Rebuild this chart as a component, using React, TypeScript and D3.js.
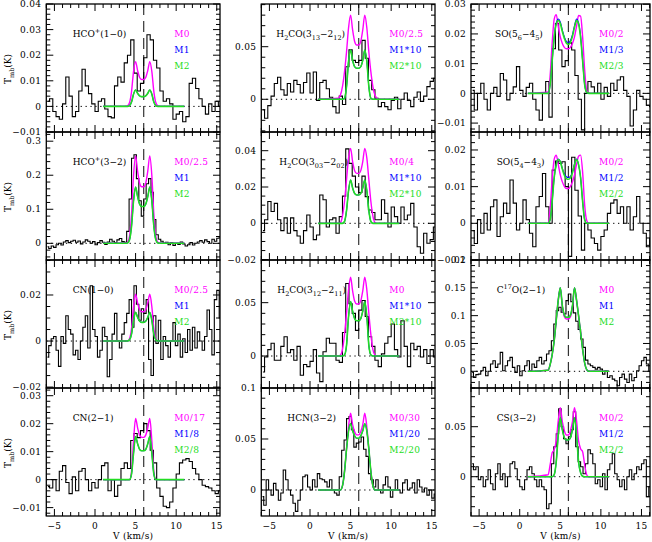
import React from "react";
import * as d3 from "d3";

// ---------- model velocity grid (km/s) ----------
const MODEL_V = [1, 3.5, 3.75, 4, 4.25, 4.5, 4.75, 5, 5.25, 5.5, 5.75, 6, 6.25, 6.5, 6.75, 7, 7.25, 7.5, 7.75, 8, 8.25, 8.5, 11];

// ---------- observed spectra (Tmb, K) ----------
const HCO10_T = [0.002, 0.003, -0.002, -0.004, -0.005, 0.001, 0.0115, 0.004, -0.004, -0.002, 0.006, 0.0145, 0.008, 0.005, 0.001, -0.002, 0.002, 0.003, -0.001, -0.004, -0.0045, 0.008, 0.0115, 0.0095, 0.017, 0.02, 0.026, 0.013, 0.006, 0.009, 0.019, 0.028, 0.026, 0.018, 0.015, 0.006, 0.002, 0.003, 0.001, -0.005, -0.003, -0.002, -0.006, -0.004, 0.009, 0.011, 0.007, 0.003, 0, -0.003, 0.001, -0.002, 0.002, 0];
const HCO32_T = [-0.01, -0.015, -0.008, -0.012, -0.004, 0, -0.005, 0.004, 0.008, 0.002, 0.006, 0.009, 0.003, 0.007, -0.002, 0.004, 0.01, 0.006, 0, 0.005, -0.004, 0.002, 0.008, 0.003, -0.003, 0.004, 0.012, 0.006, 0.002, 0.01, 0.014, 0.005, 0.003, 0.035, 0.13, 0.25, 0.26, 0.19, 0.125, 0.08, 0.13, 0.175, 0.19, 0.15, 0.07, 0.025, 0.012, 0.006, 0, 0.003, -0.004, 0.002, -0.006, 0, -0.003, 0.004, -0.002, -0.008, -0.004, 0.002, -0.005, 0, 0.004, 0.008, 0.003, 0.01, 0.005, 0, 0.012, 0.006, 0.015, 0.02];
const CN10_T = [-0.007, -0.002, 0.001, 0.002, -0.004, -0.011, 0.002, -0.001, 0.011, 0.005, 0.003, -0.006, -0.004, -0.008, 0, 0.006, 0.011, -0.003, 0.024, 0.005, 0.002, -0.007, -0.004, 0.006, 0.002, -0.0155, -0.008, 0.003, 0.012, 0, -0.003, 0.003, 0.008, 0.012, 0.018, 0.006, 0.024, 0.016, 0.009, 0.014, 0.012, 0.018, -0.008, -0.015, 0.011, -0.001, 0.009, -0.008, 0.002, -0.002, -0.007, 0, 0.008, -0.002, 0.003, -0.007, 0.001, -0.005, 0.005, -0.004, 0.006, -0.003, 0.004, 0, -0.004, 0.002, 0.0135, 0.005, -0.006, 0.018, 0.022, 0.01];
const CN21_T = [-0.0025, -0.003, 0, -0.004, 0.003, 0.005, -0.001, -0.005, 0.001, -0.004, 0.003, 0.004, 0, -0.004, -0.001, -0.003, 0, 0.005, 0.006, -0.004, 0, -0.006, -0.002, 0.004, 0.006, 0.004, 0.014, 0.0165, 0.015, 0.0175, 0.02, 0.0175, 0.0105, 0.006, -0.003, -0.006, -0.0095, -0.01, -0.008, -0.003, 0.002, 0.006, 0.007, 0.0075, 0.0065, 0.004, 0.002, 0, -0.002, -0.0025, -0.003, -0.004, -0.005, -0.004];
const H2CO313_T = [-0.01, -0.018, -0.006, 0.003, 0.015, 0.021, 0.009, 0.004, 0.015, 0.007, 0.018, 0.014, 0.006, 0.016, 0.025, 0.006, 0.026, -0.001, 0.016, 0.018, 0.01, 0.002, -0.007, -0.013, 0.003, -0.005, 0.031, 0.047, 0.037, 0.035, 0.037, 0.056, 0.039, 0.018, 0.009, 0.001, -0.007, -0.003, -0.007, -0.01, -0.001, 0.002, -0.009, 0, 0.006, -0.001, -0.007, 0.002, 0.007, -0.002, 0.003, 0.012, 0.017, 0.02];
const H2CO303_T = [-0.004, 0.002, 0.012, 0.0065, 0.011, 0.002, -0.004, 0.003, -0.0055, 0.003, -0.004, -0.007, -0.011, -0.004, 0.0046, -0.002, -0.009, -0.0064, 0.0156, 0.013, -0.002, 0.002, 0.003, -0.0055, 0.0037, 0.015, 0.041, 0.033, 0.026, 0.02, 0.017, 0.026, 0.0147, 0.0073, 0.006, 0.002, 0.002, 0.013, 0.0055, -0.002, 0.009, 0.0037, 0, 0.009, 0.002, 0.0046, 0.011, -0.002, -0.0129, -0.0165, -0.0055, -0.011, -0.009, -0.002];
const H2CO312_T = [-0.015, -0.001, 0.006, 0.012, -0.004, -0.004, 0.009, 0.018, 0.003, 0.006, -0.004, 0.009, -0.018, -0.008, -0.01, -0.005, 0.006, -0.016, -0.024, 0.004, 0.0166, 0.012, 0.012, -0.004, -0.006, 0.022, 0.068, 0.049, 0.04, 0.024, 0.043, 0.052, 0.037, 0.018, 0.009, -0.004, -0.01, 0.002, 0.012, 0.018, 0.03, 0.006, -0.001, 0.033, 0.009, -0.01, 0.012, 0.006, 0.009, -0.001, 0.006, -0.007, 0.006, -0.001];
const HCN_T = [-0.0065, -0.015, 0.01, 0, -0.005, 0.0065, 0, -0.01, -0.003, 0.0196, 0.01, 0, -0.005, -0.013, -0.021, -0.01, 0, 0.013, 0.0147, 0.003, 0, 0.01, 0.003, 0.016, 0.011, 0.01, 0.008, 0.003, 0.01, 0, -0.003, -0.005, 0.013, 0.039, 0.049, 0.07, 0.072, 0.059, 0.042, 0.046, 0.047, 0.052, 0.04, 0.033, 0.016, 0.01, 0.003, 0.01, 0, -0.003, 0.005, 0.013, 0.003, -0.007, 0, 0.01, 0, -0.003, 0.007, 0.01, 0, 0.002, 0.007, -0.003, 0.01, 0.003, -0.002, 0.002, -0.005, 0, -0.008, -0.004];
const SO56_T = [0.001, -0.0056, 0, 0.0034, -0.002, -0.0056, 0, 0.002, -0.001, 0.0067, 0.0045, -0.0022, 0, 0.0022, 0.009, 0.001, -0.001, 0.002, 0.0034, -0.002, -0.0056, -0.009, 0, 0.004, -0.008, 0.015, 0.0235, 0.0146, 0.009, 0.011, 0.017, 0.0146, 0.006, -0.002, -0.0123, 0, 0.004, 0.0022, 0, 0.0034, -0.002, 0.002, -0.001, 0.0034, 0.001, 0.0045, 0.0056, 0.001, -0.001, -0.011, -0.0056, 0.001, -0.001, -0.002, -0.004, -0.0045];
const SO54_T = [-0.002, -0.0055, 0.001, -0.0027, 0.0027, -0.0018, 0.0045, 0.0064, -0.0036, 0.0018, 0.0055, 0.0027, 0.0118, 0.0055, -0.0018, 0, 0.0064, 0.001, -0.0027, -0.0064, 0.0045, 0.0073, 0.0136, 0.0045, 0, 0.0145, 0.017, 0.0163, 0.0168, 0.01, -0.009, 0.018, 0.009, 0.002, -0.0073, 0, -0.0018, -0.004, -0.0055, -0.0073, -0.0036, -0.0018, 0.0027, 0.0055, 0.0064, 0.0027, 0.0045, 0, 0.0045, -0.0018, 0.0018, 0.0073, 0, -0.0027, -0.0064, -0.004];
const C17O_T = [-0.002, -0.011, -0.006, -0.005, 0.001, 0.007, -0.008, 0, 0.013, 0.019, 0.007, 0.013, 0.034, 0.001, 0.01, 0.019, 0.025, 0.007, -0.002, 0.01, -0.008, 0.001, 0.01, 0.019, 0.001, 0.013, 0.007, 0.019, 0.025, 0.013, 0.019, 0.031, 0.037, 0.055, 0.085, 0.109, 0.115, 0.106, 0.103, 0.127, 0.139, 0.125, 0.105, 0.09, 0.075, 0.058, 0.043, 0.02, 0.013, 0.01, 0.007, 0.004, 0.007, 0.004, -0.005, 0.001, -0.011, -0.008, -0.014, -0.017, -0.026, -0.011, -0.005, -0.014, -0.02, -0.005, -0.017, -0.011, 0.001, 0.01, 0.019, 0.025, 0.013, 0, 0.005];
const CS_T = [0.013, 0.007, 0.01, -0.003, 0, -0.01, -0.003, 0.007, -0.007, -0.013, 0.003, 0.013, -0.003, 0.003, -0.01, 0, 0.013, 0.015, 0.008, -0.003, -0.01, -0.013, -0.003, 0.007, 0.01, 0.003, -0.003, -0.01, -0.003, -0.01, -0.013, -0.032, -0.027, 0.013, 0.03, 0.043, 0.068, 0.05, 0.038, 0.033, 0.04, 0.047, 0.065, 0.03, 0.015, 0.01, 0.003, 0.013, 0.027, 0.023, 0.013, -0.007, -0.003, -0.01, 0.003, -0.013, 0.007, 0.013, 0.023, 0.003, -0.003, -0.01, -0.003, -0.013, 0, 0.007, -0.003, 0.003, 0.01, 0.007, 0.013, 0.017, -0.02, -0.01, 0];

// ---------- models (on MODEL_V grid) ----------
const HCO10_M0 = [0, 0, 0, 0.0002, 0.0014, 0.0058, 0.0137, 0.0175, 0.014, 0.0113, 0.0105, 0.0105, 0.0113, 0.014, 0.0175, 0.0137, 0.0058, 0.0014, 0.0002, 0, 0, 0, 0];
const HCO10_M2 = [0, 0, 0, 0, 0.0003, 0.0017, 0.0048, 0.0064, 0.0051, 0.0041, 0.0038, 0.0038, 0.0041, 0.0051, 0.0064, 0.0048, 0.0017, 0.0003, 0, 0, 0, 0, 0];
const HCO32_M0 = [0, 0, 0, 0.003, 0.02, 0.085, 0.2, 0.257, 0.212, 0.177, 0.166, 0.166, 0.177, 0.212, 0.257, 0.2, 0.085, 0.02, 0.003, 0, 0, 0, 0];
const HCO32_M2 = [0, 0, 0, 0.001, 0.01, 0.05, 0.125, 0.165, 0.137, 0.115, 0.108, 0.108, 0.115, 0.137, 0.165, 0.125, 0.05, 0.01, 0.001, 0, 0, 0, 0];
const CN10_M0 = [0, 0, 0, 0, 0.001, 0.0055, 0.015, 0.0203, 0.0165, 0.0136, 0.0127, 0.0127, 0.0136, 0.0165, 0.0203, 0.015, 0.0055, 0.001, 0, 0, 0, 0, 0];
const CN10_M2 = [0, 0, 0, 0, 0.0005, 0.003, 0.009, 0.0125, 0.0103, 0.0086, 0.0081, 0.0081, 0.0086, 0.0103, 0.0125, 0.009, 0.003, 0.0005, 0, 0, 0, 0, 0];
const CN21_M0 = [0, 0, 0, 0, 0, 0.003, 0.014, 0.0219, 0.0185, 0.0159, 0.0151, 0.0151, 0.0159, 0.0185, 0.0219, 0.014, 0.003, 0, 0, 0, 0, 0, 0];
const CN21_M2 = [0, 0, 0, 0, 0, 0.002, 0.0095, 0.0154, 0.0128, 0.0108, 0.0103, 0.0103, 0.0108, 0.0128, 0.0154, 0.0095, 0.002, 0, 0, 0, 0, 0, 0];
const H2CO313_M0 = [0, 0.001, 0.004, 0.012, 0.026, 0.045, 0.068, 0.08, 0.066, 0.055, 0.0516, 0.0516, 0.055, 0.066, 0.08, 0.068, 0.045, 0.026, 0.012, 0.004, 0.001, 0, 0];
const H2CO313_M2 = [0, 0, 0, 0, 0.001, 0.012, 0.036, 0.0469, 0.037, 0.031, 0.0295, 0.0295, 0.031, 0.037, 0.0469, 0.036, 0.012, 0.001, 0, 0, 0, 0, 0];
const H2CO303_M0 = [0, 0, 0.0005, 0.004, 0.012, 0.024, 0.036, 0.0413, 0.034, 0.029, 0.0275, 0.0275, 0.029, 0.034, 0.0413, 0.036, 0.024, 0.012, 0.004, 0.0005, 0, 0, 0];
const H2CO303_M2 = [0, 0, 0, 0, 0.001, 0.007, 0.018, 0.0239, 0.0195, 0.0164, 0.0156, 0.0156, 0.0164, 0.0195, 0.0239, 0.018, 0.007, 0.001, 0, 0, 0, 0, 0];
const H2CO312_M0 = [0, 0, 0.001, 0.006, 0.02, 0.04, 0.062, 0.0738, 0.061, 0.0515, 0.0487, 0.0487, 0.0515, 0.061, 0.0738, 0.062, 0.04, 0.02, 0.006, 0.001, 0, 0, 0];
const H2CO312_M2 = [0, 0, 0, 0, 0.001, 0.01, 0.037, 0.051, 0.042, 0.035, 0.033, 0.033, 0.035, 0.042, 0.051, 0.037, 0.01, 0.001, 0, 0, 0, 0, 0];
const HCN_M0 = [0, 0, 0, 0.004, 0.018, 0.04, 0.062, 0.0752, 0.064, 0.057, 0.054, 0.054, 0.057, 0.064, 0.0752, 0.062, 0.04, 0.018, 0.004, 0, 0, 0, 0];
const HCN_M2 = [0, 0, 0, 0.004, 0.018, 0.04, 0.058, 0.065, 0.058, 0.053, 0.0507, 0.0507, 0.053, 0.058, 0.065, 0.058, 0.04, 0.018, 0.004, 0, 0, 0, 0];
const SO56_M0 = [0, 0.0005, 0.006, 0.017, 0.025, 0.0265, 0.0225, 0.019, 0.0168, 0.0155, 0.015, 0.015, 0.0155, 0.0168, 0.019, 0.0225, 0.0262, 0.026, 0.019, 0.008, 0.001, 0, 0];
const SO56_M1 = [0, 0, 0.003, 0.011, 0.019, 0.0236, 0.025, 0.024, 0.0213, 0.019, 0.0175, 0.0171, 0.0178, 0.0198, 0.0228, 0.025, 0.0238, 0.0193, 0.011, 0.003, 0.0003, 0, 0];
const SO56_M2 = [0, 0, 0.003, 0.011, 0.019, 0.0233, 0.0245, 0.0235, 0.0208, 0.0185, 0.0169, 0.0165, 0.0172, 0.0192, 0.0222, 0.0245, 0.0233, 0.0188, 0.011, 0.003, 0.0003, 0, 0];
const SO54_M0 = [0, 0, 0.004, 0.012, 0.0175, 0.0186, 0.016, 0.0132, 0.0113, 0.0101, 0.0095, 0.0095, 0.0101, 0.0113, 0.0132, 0.016, 0.0183, 0.0186, 0.014, 0.005, 0.0008, 0, 0];
const SO54_M1 = [0, 0, 0.001, 0.006, 0.0125, 0.016, 0.0175, 0.0169, 0.015, 0.0135, 0.0127, 0.0125, 0.0128, 0.0141, 0.0162, 0.0175, 0.016, 0.0125, 0.006, 0.001, 0, 0, 0];
const SO54_M2 = [0, 0, 0.001, 0.006, 0.0125, 0.016, 0.0174, 0.0168, 0.0148, 0.0131, 0.0122, 0.012, 0.0124, 0.0138, 0.016, 0.0174, 0.016, 0.0125, 0.006, 0.001, 0, 0, 0];
const C17O_M0 = [0, 0.002, 0.012, 0.03, 0.055, 0.092, 0.128, 0.15, 0.116, 0.098, 0.094, 0.094, 0.098, 0.116, 0.15, 0.128, 0.1, 0.07, 0.04, 0.015, 0.003, 0, 0];
const C17O_M2 = [0, 0.002, 0.012, 0.03, 0.055, 0.092, 0.128, 0.15, 0.118, 0.101, 0.097, 0.097, 0.101, 0.118, 0.15, 0.128, 0.1, 0.07, 0.04, 0.015, 0.003, 0, 0];
const CS_M0 = [0, 0.002, 0.012, 0.024, 0.027, 0.036, 0.056, 0.069, 0.055, 0.046, 0.0417, 0.0417, 0.046, 0.055, 0.069, 0.056, 0.036, 0.028, 0.025, 0.012, 0.002, 0, 0];
const CS_M2 = [0, 0, 0, 0, 0.002, 0.015, 0.042, 0.059, 0.047, 0.039, 0.0367, 0.0367, 0.039, 0.047, 0.059, 0.042, 0.015, 0.004, 0.0005, 0, 0, 0, 0];

// ---------- labels: [text, shift] shift 0 normal, 1 sup, -1 sub ----------
type Part = [string, number];
const HCO10_NAME: Part[] = [["HCO", 0], ["+", 1], ["(1−0)", 0]];
const HCO32_NAME: Part[] = [["HCO", 0], ["+", 1], ["(3−2)", 0]];
const CN10_NAME: Part[] = [["CN(1−0)", 0]];
const CN21_NAME: Part[] = [["CN(2−1)", 0]];
const H2CO313_NAME: Part[] = [["H", 0], ["2", -1], ["CO(3", 0], ["13", -1], ["−2", 0], ["12", -1], [")", 0]];
const H2CO303_NAME: Part[] = [["H", 0], ["2", -1], ["CO(3", 0], ["03", -1], ["−2", 0], ["02", -1], [")", 0]];
const H2CO312_NAME: Part[] = [["H", 0], ["2", -1], ["CO(3", 0], ["12", -1], ["−2", 0], ["11", -1], [")", 0]];
const HCN_NAME: Part[] = [["HCN(3−2)", 0]];
const SO56_NAME: Part[] = [["SO(5", 0], ["6", -1], ["−4", 0], ["5", -1], [")", 0]];
const SO54_NAME: Part[] = [["SO(5", 0], ["4", -1], ["−4", 0], ["3", -1], [")", 0]];
const C17O_NAME: Part[] = [["C", 0], ["17", 1], ["O(2−1)", 0]];
const CS_NAME: Part[] = [["CS(3−2)", 0]];
const Y_TITLE: Part[] = [["T", 0], ["mb", -1], ["(K)", 0]];

const HCO10_ML = ["M0", "M1", "M2"];
const HCO32_ML = ["M0/2.5", "M1", "M2"];
const CN10_ML = ["M0/2.5", "M1", "M2"];
const CN21_ML = ["M0/17", "M1/8", "M2/8"];
const H2CO313_ML = ["M0/2.5", "M1*10", "M2*10"];
const H2CO303_ML = ["M0/4", "M1*10", "M2*10"];
const H2CO312_ML = ["M0", "M1*10", "M2*10"];
const HCN_ML = ["M0/30", "M1/20", "M2/20"];
const SO56_ML = ["M0/2", "M1/3", "M2/3"];
const SO54_ML = ["M0/2", "M1/2", "M2/2"];
const C17O_ML = ["M0", "M1", "M2"];
const CS_ML = ["M0/2", "M1/2", "M2/2"];

const X_TITLE = "V (km/s)";

// ---------- layout ----------
const COL_X = [46.3, 261.3, 471];
const COL_W = [173.7, 173.7, 179];
const COL_VMAX = [15.4, 15.4, 16.05];
const ROW_Y0 = 4;
const ROW_H = 128;
const MODEL_COLORS = ["#ff00ff", "#0000ff", "#22dd22"];
const MODEL_WIDTHS = [1.4, 1.1, 1.6];
const FONT = "'DejaVu Serif', serif";
const FS = 9;

const PANELS = [
  { col: 0, row: 0, name: HCO10_NAME, nameDx: 26.4, v0: -5.8, dv: 0.4, spec: HCO10_T, models: [HCO10_M0, HCO10_M2, HCO10_M2], ml: HCO10_ML, y: [-0.01, 0.04], minor: 0.002, nPer: 5 },
  { col: 0, row: 1, name: HCO32_NAME, nameDx: 26.4, v0: -5.85, dv: 0.3, spec: HCO32_T, models: [HCO32_M0, HCO32_M2, HCO32_M2], ml: HCO32_ML, y: [-0.049, 0.327], minor: 0.02, nPer: 5 },
  { col: 0, row: 2, name: CN10_NAME, nameDx: 26.4, v0: -5.85, dv: 0.3, spec: CN10_T, models: [CN10_M0, CN10_M2, CN10_M2], ml: CN10_ML, y: [-0.0204, 0.0352], minor: 0.005, nPer: 4 },
  { col: 0, row: 3, name: CN21_NAME, nameDx: 26.4, v0: -5.8, dv: 0.4, spec: CN21_T, models: [CN21_M0, CN21_M2, CN21_M2], ml: CN21_ML, y: [-0.013, 0.03275], minor: 0.002, nPer: 5 },
  { col: 1, row: 0, name: H2CO313_NAME, nameDx: 15, v0: -5.8, dv: 0.4, spec: H2CO313_T, models: [H2CO313_M0, H2CO313_M2, H2CO313_M2], ml: H2CO313_ML, y: [-0.0311, 0.0906], minor: 0.01, nPer: 5 },
  { col: 1, row: 1, name: H2CO303_NAME, nameDx: 18, v0: -5.8, dv: 0.4, spec: H2CO303_T, models: [H2CO303_M0, H2CO303_M2, H2CO303_M2], ml: H2CO303_ML, y: [-0.0202, 0.0503], minor: 0.005, nPer: 4 },
  { col: 1, row: 2, name: H2CO312_NAME, nameDx: 16, v0: -5.8, dv: 0.4, spec: H2CO312_T, models: [H2CO312_M0, H2CO312_M2, H2CO312_M2], ml: H2CO312_ML, y: [-0.03, 0.09], minor: 0.01, nPer: 5 },
  { col: 1, row: 3, name: HCN_NAME, nameDx: 26, v0: -5.85, dv: 0.3, spec: HCN_T, models: [HCN_M0, HCN_M2, HCN_M2], ml: HCN_ML, y: [-0.0255, 0.1], minor: 0.01, nPer: 5 },
  { col: 2, row: 0, name: SO56_NAME, nameDx: 24, v0: -5.8, dv: 0.4, spec: SO56_T, models: [SO56_M0, SO56_M1, SO56_M2], ml: SO56_ML, y: [-0.013, 0.03007], minor: 0.002, nPer: 5 },
  { col: 2, row: 1, name: SO54_NAME, nameDx: 25.7, v0: -5.8, dv: 0.4, spec: SO54_T, models: [SO54_M0, SO54_M1, SO54_M2], ml: SO54_ML, y: [-0.01, 0.0249], minor: 0.002, nPer: 5 },
  { col: 2, row: 2, name: C17O_NAME, nameDx: 25.7, v0: -5.85, dv: 0.3, spec: C17O_T, models: [C17O_M0, C17O_M2, C17O_M2], ml: C17O_ML, y: [-0.03, 0.2], minor: 0.01, nPer: 5 },
  { col: 2, row: 3, name: CS_NAME, nameDx: 25.7, v0: -5.85, dv: 0.3, spec: CS_T, models: [CS_M0, CS_M2, CS_M2], ml: CS_ML, y: [-0.0393, 0.0887], minor: 0.01, nPer: 5 },
];

function makeTicks(lo: number, hi: number, step: number, nPer: number) {
  const out: { v: number; major: boolean }[] = [];
  const k0 = Math.ceil(lo / step - 1e-6);
  const k1 = Math.floor(hi / step + 1e-6);
  for (let k = k0; k <= k1; k++) out.push({ v: k * step, major: ((k % nPer) + nPer) % nPer === 0 });
  return out;
}

function fmt(v: number) {
  if (Math.abs(v) < 1e-12) return "0";
  return String(+v.toFixed(4)).replace("-", "−");
}

function Rich({ x, y, parts, size, fill = "#000", transform }: any) {
  let cur = 0;
  return (
    <text x={x} y={y} fontSize={size} fill={fill} transform={transform} fontFamily={FONT}>
      {parts.map(([t, k]: Part, i: number) => {
        const target = k === -1 ? size * 0.32 : k === 1 ? -size * 0.42 : 0;
        const dy = target - cur;
        cur = target;
        return (
          <tspan key={i} dy={dy} fontSize={k ? size * 0.72 : size}>
            {t}
          </tspan>
        );
      })}
    </text>
  );
}

function PanelView({ p, idx }: any) {
  const x0 = COL_X[p.col];
  const w = COL_W[p.col];
  const y0 = ROW_Y0 + ROW_H * p.row;
  const h = ROW_H;
  const vmax = COL_VMAX[p.col];
  const xs = d3.scaleLinear().domain([-6, vmax]).range([x0, x0 + w]);
  const ys = d3.scaleLinear().domain(p.y).range([y0 + h, y0]);
  const specPts: [number, number][] = p.spec.map((t: number, i: number) => [p.v0 + p.dv * i, t]);
  const stepLine = d3
    .line<[number, number]>()
    .x((d) => xs(d[0]))
    .y((d) => ys(d[1]))
    .curve(d3.curveStep);
  const modelLine = d3
    .line<number>()
    .x((_d, i) => xs(MODEL_V[i]))
    .y((d) => ys(d))
    .curve(d3.curveMonotoneX);
  const clipId = `clip${idx}`;
  const xt = makeTicks(-6, vmax, 1, 5);
  const yt = makeTicks(p.y[0], p.y[1], p.minor, p.nPer);
  const MAJ = 7;
  const MIN = 4;
  return (
    <g>
      <defs>
        <clipPath id={clipId}>
          <rect x={x0} y={y0} width={w} height={h} />
        </clipPath>
      </defs>
      <g clipPath={`url(#${clipId})`}>
        <line x1={x0} x2={x0 + w} y1={ys(0)} y2={ys(0)} stroke="#000" strokeWidth={1} strokeDasharray="1.3,3.6" />
        <line x1={xs(6)} x2={xs(6)} y1={y0} y2={y0 + h} stroke="#333" strokeWidth={1.2} strokeDasharray="11,6" />
        <path d={stepLine(specPts) || ""} fill="none" stroke="#000" strokeWidth={1.1} />
        {p.models.map((m: number[], i: number) => (
          <path key={i} d={modelLine(m) || ""} fill="none" stroke={MODEL_COLORS[i]} strokeWidth={MODEL_WIDTHS[i]} />
        ))}
      </g>
      {xt.map((t, i) => (
        <g key={"x" + i} stroke="#000" strokeWidth={1}>
          <line x1={xs(t.v)} x2={xs(t.v)} y1={y0 + h} y2={y0 + h - (t.major ? MAJ : MIN)} />
          <line x1={xs(t.v)} x2={xs(t.v)} y1={y0} y2={y0 + (t.major ? MAJ : MIN)} />
        </g>
      ))}
      {yt.map((t, i) => (
        <g key={"y" + i} stroke="#000" strokeWidth={1}>
          <line x1={x0} x2={x0 + (t.major ? MAJ : MIN)} y1={ys(t.v)} y2={ys(t.v)} />
          <line x1={x0 + w} x2={x0 + w - (t.major ? MAJ : MIN)} y1={ys(t.v)} y2={ys(t.v)} />
        </g>
      ))}
      <rect x={x0} y={y0} width={w} height={h} fill="none" stroke="#000" strokeWidth={1.3} />
      {yt
        .filter((t) => t.major)
        .map((t, i) => (
          <text key={"yl" + i} x={x0 - 5} y={ys(t.v)} dy="0.35em" textAnchor="end" fontSize={FS} fontFamily={FONT} letterSpacing={0.3}>
            {fmt(t.v)}
          </text>
        ))}
      {p.row === 3 &&
        xt
          .filter((t) => t.major)
          .map((t, i) => (
            <text key={"xl" + i} x={xs(t.v)} y={528.5} textAnchor="middle" fontSize={FS} fontFamily={FONT} letterSpacing={0.3}>
              {fmt(t.v)}
            </text>
          ))}
      {p.row === 3 && (
        <text x={x0 + w / 2} y={538.5} textAnchor="middle" fontSize={FS} fontFamily={FONT} letterSpacing={0.3}>
          {X_TITLE}
        </text>
      )}
      {p.col === 0 && (
        <Rich x={0} y={0} size={FS} parts={Y_TITLE} transform={`translate(11,${y0 + h / 2 + 16}) rotate(-90)`} />
      )}
      <Rich x={x0 + p.nameDx} y={y0 + 33} parts={p.name} size={FS} />
      {p.ml.map((t: string, i: number) => (
        <text key={"ml" + i} x={x0 + 128} y={y0 + 33 + i * 16.2} fontSize={FS} fontFamily={FONT} fill={MODEL_COLORS[i]} letterSpacing={0.3}>
          {t}
        </text>
      ))}
    </g>
  );
}

export default function App() {
  return (
    <svg width={652} height={542} style={{ position: "absolute", left: 0, top: 0, background: "#fff" }}>
      <rect x={0} y={0} width={652} height={542} fill="#fff" />
      {PANELS.map((p, i) => (
        <PanelView key={i} p={p} idx={i} />
      ))}
    </svg>
  );
}
